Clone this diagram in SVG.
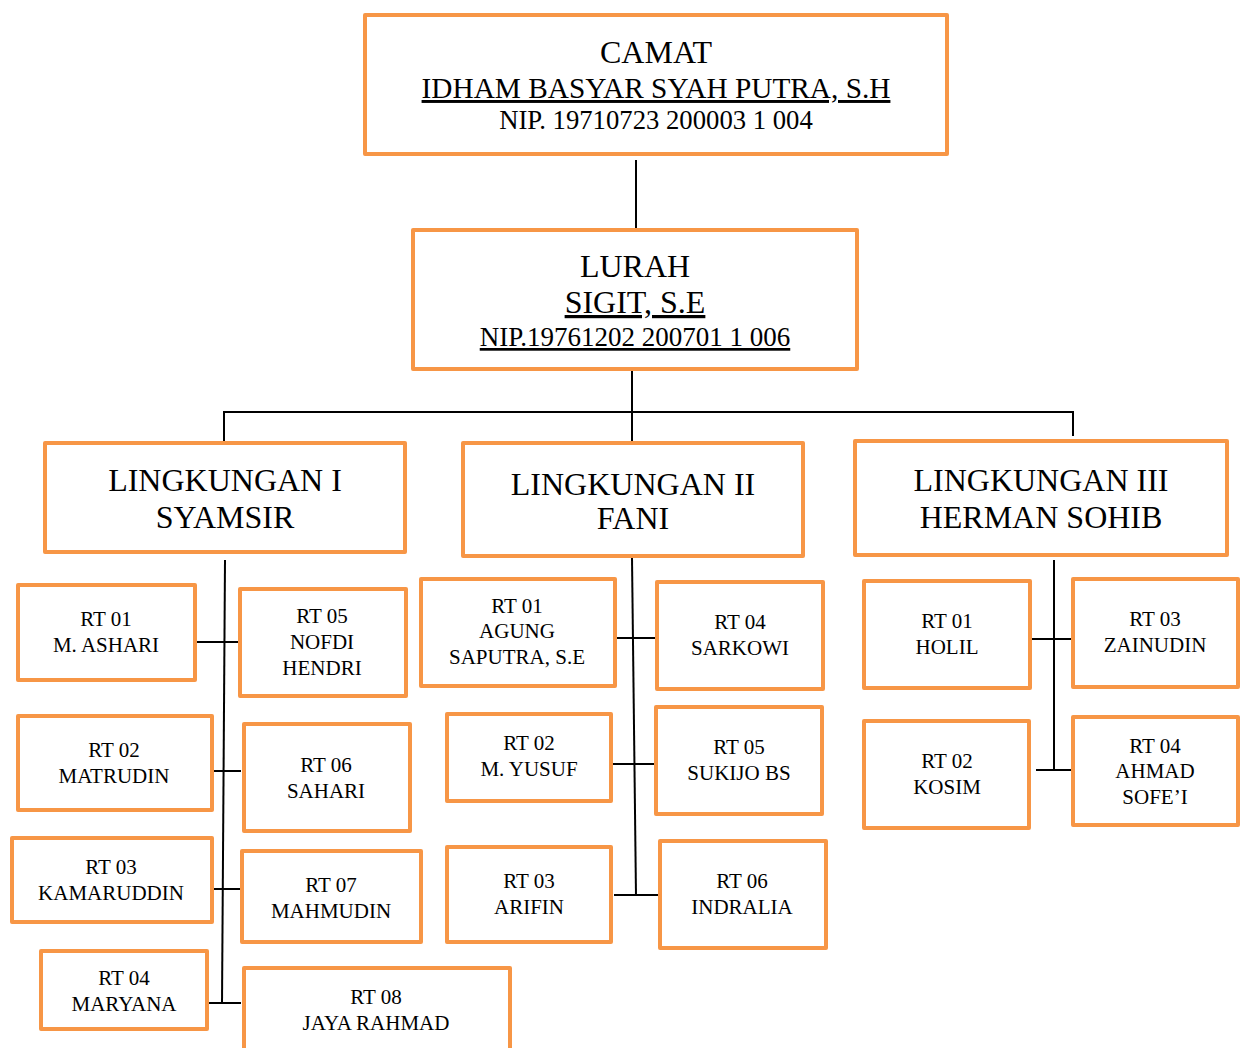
<svg xmlns="http://www.w3.org/2000/svg" width="1240" height="1048" viewBox="0 0 1240 1048">
<style>
.box{fill:#fff;stroke:#F79646;stroke-width:4;stroke-linejoin:round}
.c{stroke:#000;stroke-width:2;fill:none}
text{font-family:"Liberation Serif","Times New Roman",serif;fill:#000;text-anchor:middle}
.t1{font-size:32px}
.t2{font-size:29.3px}
.t3{font-size:26.7px}
.t4{font-size:27px}
.tl{font-size:32px}
.rt{font-size:21px}
.u{text-decoration:underline}
</style>
<rect width="1240" height="1048" fill="#fff"/>
<g id="connectors">
<line class="c" x1="636" y1="160" x2="636" y2="229"/>
<line class="c" x1="632" y1="366" x2="632" y2="449"/>
<line class="c" x1="224" y1="412" x2="1073" y2="412"/>
<line class="c" x1="224" y1="411" x2="224" y2="443"/>
<line class="c" x1="1073" y1="411" x2="1073" y2="436"/>
<line class="c" x1="225" y1="560" x2="222" y2="1004"/>
<line class="c" x1="195" y1="642" x2="240" y2="642"/>
<line class="c" x1="209" y1="771" x2="241" y2="771"/>
<line class="c" x1="209" y1="889" x2="241" y2="889"/>
<line class="c" x1="209" y1="1003" x2="241" y2="1003"/>
<line class="c" x1="632" y1="558" x2="636" y2="896"/>
<line class="c" x1="614" y1="638" x2="657" y2="638"/>
<line class="c" x1="612" y1="764" x2="656" y2="764"/>
<line class="c" x1="614" y1="895" x2="660" y2="895"/>
<line class="c" x1="1054" y1="560" x2="1054" y2="771"/>
<line class="c" x1="1030" y1="639" x2="1073" y2="639"/>
<line class="c" x1="1036" y1="770" x2="1080" y2="770"/>
</g>
<g id="camat">
<rect class="box" x="365" y="15" width="582" height="139"/>
<text class="t1" x="656" y="63">CAMAT</text>
<text class="t2 u" x="656" y="98">IDHAM BASYAR SYAH PUTRA, S.H</text>
<text class="t3" x="656" y="129">NIP. 19710723 200003 1 004</text>
</g>
<g id="lurah">
<rect class="box" x="413" y="230" width="444" height="139"/>
<text class="t1" x="635" y="277">LURAH</text>
<text class="t1 u" x="635" y="313">SIGIT, S.E</text>
<text class="t4 u" x="635" y="346">NIP.19761202 200701 1 006</text>
</g>
<g id="ling1">
<rect class="box" x="45" y="443" width="360" height="109"/>
<text class="tl" x="225" y="491">LINGKUNGAN I</text>
<text class="tl" x="225" y="528">SYAMSIR</text>
</g>
<g id="ling2">
<rect class="box" x="463" y="443" width="340" height="113"/>
<text class="tl" x="633" y="495">LINGKUNGAN II</text>
<text class="tl" x="633" y="529">FANI</text>
</g>
<g id="ling3">
<rect class="box" x="855" y="441" width="372" height="114"/>
<text class="tl" x="1041" y="491">LINGKUNGAN III</text>
<text class="tl" x="1041" y="528">HERMAN SOHIB</text>
</g>
<g id="l1-rt01"><rect class="box" x="18" y="585" width="177" height="95"/><text class="rt" x="106" y="626">RT 01</text><text class="rt" x="106" y="652">M. ASHARI</text></g>
<g id="l1-rt05"><rect class="box" x="240" y="589" width="166" height="107"/><text class="rt" x="322" y="623">RT 05</text><text class="rt" x="322" y="649">NOFDI</text><text class="rt" x="322" y="675">HENDRI</text></g>
<g id="l1-rt02"><rect class="box" x="18" y="716" width="194" height="94"/><text class="rt" x="114" y="757">RT 02</text><text class="rt" x="114" y="783">MATRUDIN</text></g>
<g id="l1-rt06"><rect class="box" x="244" y="724" width="166" height="107"/><text class="rt" x="326" y="772">RT 06</text><text class="rt" x="326" y="798">SAHARI</text></g>
<g id="l1-rt03"><rect class="box" x="12" y="838" width="200" height="84"/><text class="rt" x="111" y="874">RT 03</text><text class="rt" x="111" y="900">KAMARUDDIN</text></g>
<g id="l1-rt07"><rect class="box" x="242" y="851" width="179" height="91"/><text class="rt" x="331" y="892">RT 07</text><text class="rt" x="331" y="918">MAHMUDIN</text></g>
<g id="l1-rt04"><rect class="box" x="41" y="951" width="166" height="78"/><text class="rt" x="124" y="985">RT 04</text><text class="rt" x="124" y="1011">MARYANA</text></g>
<g id="l1-rt08"><rect class="box" x="244" y="968" width="266" height="100"/><text class="rt" x="376" y="1004">RT 08</text><text class="rt" x="376" y="1030">JAYA RAHMAD</text></g>
<g id="l2-rt01"><rect class="box" x="421" y="579" width="194" height="107"/><text class="rt" x="517" y="613">RT 01</text><text class="rt" x="517" y="638">AGUNG</text><text class="rt" x="517" y="664">SAPUTRA, S.E</text></g>
<g id="l2-rt04"><rect class="box" x="657" y="582" width="166" height="107"/><text class="rt" x="740" y="629">RT 04</text><text class="rt" x="740" y="655">SARKOWI</text></g>
<g id="l2-rt02"><rect class="box" x="447" y="714" width="164" height="87"/><text class="rt" x="529" y="750">RT 02</text><text class="rt" x="529" y="776">M. YUSUF</text></g>
<g id="l2-rt05"><rect class="box" x="656" y="707" width="166" height="107"/><text class="rt" x="739" y="754">RT 05</text><text class="rt" x="739" y="780">SUKIJO BS</text></g>
<g id="l2-rt03"><rect class="box" x="447" y="847" width="164" height="95"/><text class="rt" x="529" y="888">RT 03</text><text class="rt" x="529" y="914">ARIFIN</text></g>
<g id="l2-rt06"><rect class="box" x="660" y="841" width="166" height="107"/><text class="rt" x="742" y="888">RT 06</text><text class="rt" x="742" y="914">INDRALIA</text></g>
<g id="l3-rt01"><rect class="box" x="864" y="581" width="166" height="107"/><text class="rt" x="947" y="628">RT 01</text><text class="rt" x="947" y="654">HOLIL</text></g>
<g id="l3-rt03"><rect class="box" x="1073" y="579" width="165" height="108"/><text class="rt" x="1155" y="626">RT 03</text><text class="rt" x="1155" y="652">ZAINUDIN</text></g>
<g id="l3-rt02"><rect class="box" x="864" y="721" width="165" height="107"/><text class="rt" x="947" y="768">RT 02</text><text class="rt" x="947" y="794">KOSIM</text></g>
<g id="l3-rt04"><rect class="box" x="1073" y="717" width="165" height="108"/><text class="rt" x="1155" y="753">RT 04</text><text class="rt" x="1155" y="778">AHMAD</text><text class="rt" x="1155" y="804">SOFE’I</text></g>
</svg>
